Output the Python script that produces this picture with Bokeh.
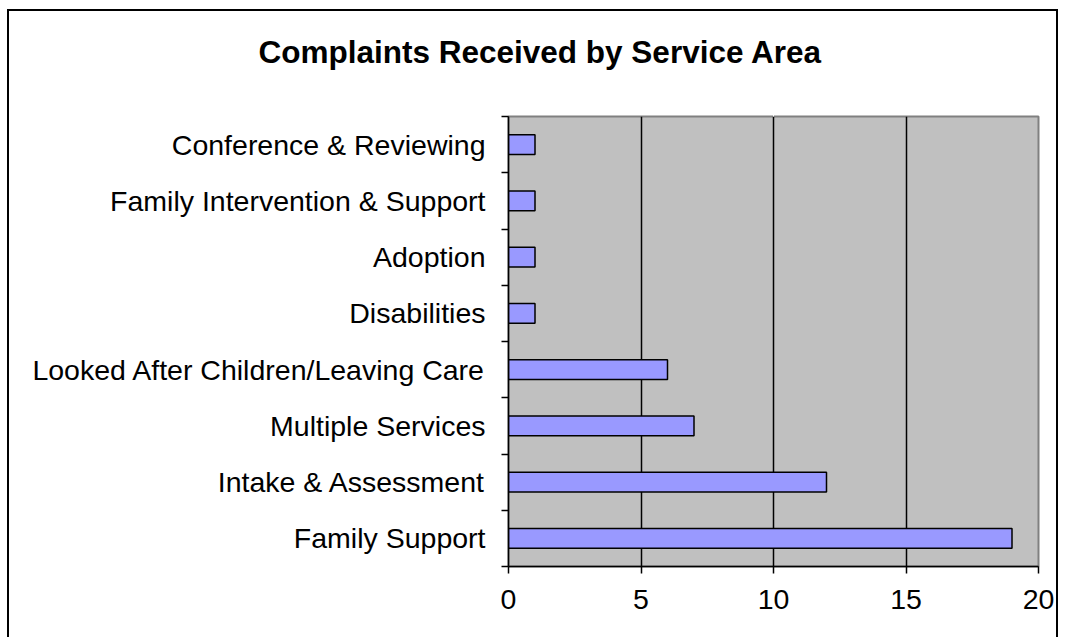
from bokeh.plotting import figure
from bokeh.models import FixedTicker, Range1d, LinearAxis
from bokeh.embed import file_html
from bokeh.resources import INLINE

categories = ["Family Support", "Intake & Assessment", "Multiple Services",
              "Looked After Children/Leaving Care", "Disabilities", "Adoption",
              "Family Intervention & Support", "Conference & Reviewing"]
complaints = [19, 12, 7, 6, 1, 1, 1, 1]
x_ticks = [0, 5, 10, 15, 20]
title_text = "Complaints Received by Service Area"

FONT = "Liberation Sans"
OX, OY = 9, 11                  # canvas origin inside the chart border
W, H = 1058 - (OX - 2), 639 - OY
FL, FR, FT, FB = 508 - OX, 1038 - OX, 116 - OY, 566 - OY   # frame edges
n = len(categories)
ypos = [i + 0.5 for i in range(n)]

p = figure(width=W, height=H, output_backend="svg", toolbar_location=None,
           x_range=Range1d(0, 20), y_range=Range1d(0, n),
           min_border_left=FL, min_border_right=W - FR, min_border_top=FT,
           min_border_bottom=H - FB, margin=(OY - 2, 0, 0, OX - 2),
           styles={"border-left": "2px solid black", "border-top": "2px solid black",
                   "border-right": "2px solid black", "border-bottom": "none"})
p.background_fill_color = "#C0C0C0"
p.border_fill_color = "white"
p.outline_line_color = "#808080"
p.outline_line_width = 2

p.hbar(y=ypos, right=complaints, left=0, height=0.35,
       fill_color="#9999FF", line_color="black", line_width=1.5)

# invisible spacer (white tick on white) between frame and title
spacer = LinearAxis(ticker=FixedTicker(ticks=[x_ticks[2]]), axis_line_color=None,
                    major_tick_line_color="white", minor_tick_line_color=None,
                    major_tick_in=0, major_tick_out=47, minor_tick_in=0,
                    minor_tick_out=0, major_label_standoff=0,
                    major_label_overrides={x_ticks[2]: ""},
                    major_label_text_font_size="1px",
                    major_label_text_color="white")
p.add_layout(spacer, "above")

# title
p.title.text = title_text
p.title.align = "left"
p.title.offset = 258 - 508
p.title.standoff = 0
p.title.text_font = FONT
p.title.text_font_size = "31.5px"
p.title.text_font_style = "bold"
p.title.text_color = "black"

# grid
p.ygrid.grid_line_color = None
p.xgrid.ticker = FixedTicker(ticks=x_ticks)
p.xgrid.grid_line_color = "black"
p.xgrid.grid_line_width = 1.5

# x axis
xa = p.below[0]
xa.ticker = FixedTicker(ticks=x_ticks)
xa.axis_line_color = "black"
xa.axis_line_width = 1.5
xa.major_tick_line_color = "black"
xa.major_tick_line_width = 1.5
xa.major_tick_in = 0
xa.major_tick_out = 7
xa.minor_tick_line_color = None
xa.major_label_text_font = FONT
xa.major_label_text_font_size = "28.5px"
xa.major_label_text_color = "black"
xa.major_label_standoff = 16

# y axis
ya = p.yaxis[0]
ya.ticker = FixedTicker(ticks=ypos, minor_ticks=list(range(n + 1)))
ya.major_label_overrides = {y: c for y, c in zip(ypos, categories)}
ya.axis_line_color = "black"
ya.axis_line_width = 1.5
ya.major_tick_line_color = None
ya.major_tick_in = 0
ya.major_tick_out = 7
ya.minor_tick_line_color = "black"
ya.minor_tick_line_width = 1.5
ya.minor_tick_in = 0
ya.minor_tick_out = 7
ya.major_label_text_font = FONT
ya.major_label_text_font_size = "28.5px"
ya.major_label_text_color = "black"
ya.major_label_standoff = 16

open("out.html", "w").write(file_html(p, INLINE))
